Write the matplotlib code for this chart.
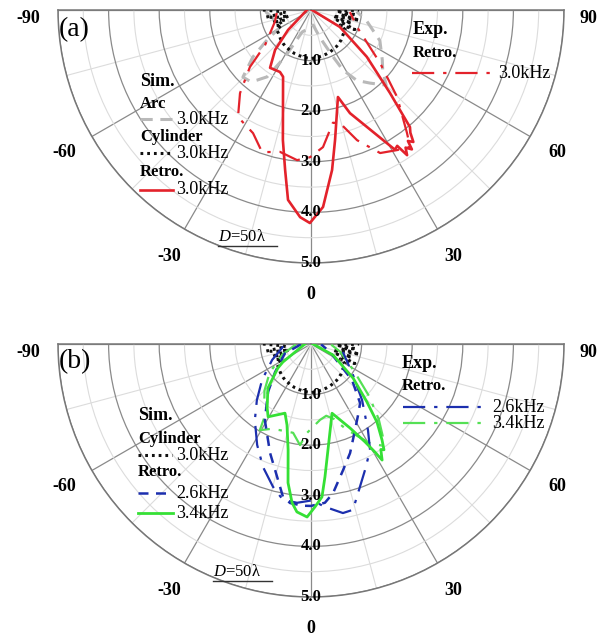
import numpy as np
import matplotlib
matplotlib.use('Agg')
import matplotlib.pyplot as plt
from matplotlib.lines import Line2D

plt.rcParams['font.family'] = ['Liberation Serif', 'DejaVu Serif']
plt.rcParams['mathtext.fontset'] = 'custom'
plt.rcParams['mathtext.rm'] = 'Liberation Serif'
plt.rcParams['mathtext.it'] = 'Liberation Serif:italic'

# ---- data (angle in degrees, normalised level) ----
angle_ticks = [-90, -60, -30, 0, 30, 60, 90]
minor_angles = [-75, -45, -15, 15, 45, 75]
r_ticks = [1.0, 2.0, 3.0, 4.0, 5.0]
r_minor = [0.5, 1.5, 2.5, 3.5, 4.5]

# simulation, cylinder 3.0 kHz (same in both panels)
cyl_theta = [-90, -87, -84, -81, -78, -75, -72, -69, -66, -63, -60, -55, -50, -45, -40, -35,
             -30, -25, -20, -15, -10, -5, 0, 5, 10, 15, 20, 25, 30, 35, 40, 45, 50, 55, 60,
             63, 66, 69, 72, 75, 78, 81, 84, 87, 90]
cyl_r = [0.95, 0.60, 0.50, 0.90, 0.70, 0.45, 0.80, 0.55, 0.75, 0.65, 0.78, 0.79, 0.81, 0.84,
         0.86, 0.88, 0.89, 0.91, 0.92, 0.93, 0.94, 0.95, 0.96, 0.95, 0.94, 0.93, 0.92, 0.91,
         0.89, 0.88, 0.86, 0.84, 0.81, 0.79, 0.78, 0.65, 0.95, 0.55, 0.85, 0.45, 0.98, 0.60,
         0.90, 0.50, 0.95]

# (a) simulation, arc 3.0 kHz
arc_theta = [-88, -75, -61, -55.7, -51, -45.4, -40, -37.6, -33.3, -29, -22, -10, 0, 8, 15,
             20, 25, 28, 33, 39, 45, 50, 55, 66, 80, 88]
arc_r = [0.90, 0.75, 0.70, 1.05, 1.48, 1.89, 1.85, 1.75, 1.58, 1.06, 0.47, 0.38, 0.35, 0.30,
         0.45, 0.65, 1.00, 1.34, 1.66, 1.86, 2.10, 1.85, 1.72, 1.49, 1.10, 0.90]

# (a) simulation, retro 3.0 kHz
retro30_theta = [-90, -49, -42, -35.3, -26.6, -22.7, -12.2, -9.2, -6.9, -3.0, -0.3, 3.5, 7.5,
                 10.5, 17.2, 20.7, 29.0, 31.0, 32.4, 33.5, 34.5, 35.9, 36.5, 37.8, 39.0, 40.2,
                 43.6, 50, 59.6, 90]
retro30_r = [0.08, 0.60, 1.06, 1.40, 1.37, 1.43, 2.63, 3.20, 3.78, 4.10, 4.21, 3.90, 3.19,
             2.61, 1.80, 2.18, 2.94, 3.22, 3.18, 3.44, 3.30, 3.40, 3.22, 3.30, 3.12, 3.03,
             2.26, 1.44, 0.66, 0.02]

# (a) experiment, retro 3.0 kHz
exp30_theta = [-85, -72, -52.7, -47, -40.5, -34.3, -25.2, -19, -12.3, -5.3, -0.4, 5, 11, 14.4,
               19.5, 25.8, 31.6, 35.9, 38, 44.7, 52.5, 69.7, 87]
exp30_r = [0.68, 0.75, 1.14, 1.65, 2.16, 2.56, 2.69, 2.97, 2.87, 2.98, 2.91, 2.72, 2.27, 2.31,
           2.73, 3.14, 3.25, 3.34, 3.08, 2.42, 1.72, 0.97, 0.77]

# (b) simulation, retro 2.6 kHz
retro26_theta = [-88, -70, -52, -41.9, -31.2, -20.6, -14.3, -10.4, -7.5, -3, 0, 5, 8.4, 14.3,
                 19.7, 27.1, 33, 39.7, 48.7, 67, 88]
retro26_r = [0.20, 0.55, 0.90, 1.27, 1.76, 2.30, 2.71, 3.07, 3.17, 3.20, 3.20, 3.15, 2.98,
             2.57, 2.29, 1.91, 1.70, 1.52, 1.08, 0.41, 0.20]

# (b) simulation, retro 3.4 kHz
retro34_theta = [-90, -57.3, -54, -44.3, -34.5, -30.5, -20.6, -16.5, -12.2, -9.4, -6.8, -4.8,
                 -1.3, 1.4, 4.1, 6.0, 9.1, 16.9, 24.9, 28.9, 30.6, 31.5, 33.5, 34.6, 36.5,
                 40.2, 44, 51, 63.4, 90]
retro34_r = [0.12, 0.66, 0.81, 1.22, 1.53, 1.67, 1.46, 1.67, 2.14, 2.78, 3.16, 3.33, 3.42,
             3.22, 3.03, 2.64, 2.12, 1.43, 1.83, 2.21, 2.48, 2.69, 2.50, 2.54, 2.36, 2.02,
             1.59, 1.07, 0.49, 0.04]

# (b) experiment, retro 2.6 kHz
exp26_theta = [-85, -67.7, -53.7, -44, -36.4, -28.1, -21.3, -14.9, -10.2, -5, 0.4, 4.9, 10.7,
               14.2, 17.5, 23.2, 29.1, 33.5, 42.3, 53.6, 76]
exp26_r = [0.55, 0.83, 1.20, 1.54, 1.87, 2.26, 2.61, 2.92, 3.13, 3.15, 3.09, 3.23, 3.40, 3.38,
           3.09, 2.71, 2.40, 2.04, 1.50, 1.03, 0.65]

# (b) experiment, retro 3.4 kHz
exp34_theta = [-88, -70, -55, -45, -38, -33.7, -30.7, -25, -19.8, -11.4, -6.2, -2.6, 6.8, 12,
               17, 22, 27, 31, 35, 38, 42, 48, 58, 75, 88]
exp34_r = [0.30, 0.60, 1.00, 1.30, 1.50, 1.57, 1.98, 1.85, 1.81, 1.79, 2.01, 1.76, 1.51, 1.45,
           1.55, 1.80, 2.05, 2.30, 2.45, 2.30, 2.00, 1.55, 1.00, 0.60, 0.40]

# ---- styles ----
RED = '#e3222b'
BLUE = '#1c2fae'
GREEN = '#35e035'
DD = (10, 4, 1.5, 4)
grey_dash = dict(color='#b9b9b9', lw=2.2, dashes=(4, 2.5))
cyl_dot = dict(color='#111111', lw=2.2, dashes=(0.9, 1.3))
red_solid = dict(color=RED, lw=1.9)
red_dd = dict(color=RED, lw=1.6, dashes=DD)
blue_dash = dict(color=BLUE, lw=1.8, dashes=(4, 3))
blue_dd = dict(color=BLUE, lw=1.6, dashes=DD)
green_solid = dict(color=GREEN, lw=2.0)
green_dd = dict(color='#55e055', lw=1.6, dashes=DD)

W, H = 597, 638
fig = plt.figure(figsize=(W / 100, H / 100), dpi=100)


def fx(x):
    return x / W


def fy(y):
    return 1 - y / H


def setup(ax):
    ax.set_theta_zero_location('S')
    ax.set_thetamin(-90)
    ax.set_thetamax(90)
    ax.set_rlim(0, 5)
    ax.set_xticks(np.deg2rad(angle_ticks))
    ax.set_xticks(np.deg2rad(minor_angles), minor=True)
    ax.set_yticks(r_ticks)
    ax.set_yticks(r_minor, minor=True)
    ax.set_xticklabels([])
    ax.set_yticklabels([])
    ax.xaxis.grid(True, which='major', color='#8a8a8a', lw=0.9)
    ax.xaxis.grid(True, which='minor', color='#dcdcdc', lw=0.8)
    ax.yaxis.grid(True, which='major', color='#8a8a8a', lw=0.9)
    ax.yaxis.grid(True, which='minor', color='#dcdcdc', lw=0.8)
    ax.tick_params(axis='x', which='major', length=0)
    ax.tick_params(axis='x', which='minor', length=5, direction='in', color='#777777')
    ax.tick_params(axis='y', length=0)
    for s in ax.spines.values():
        s.set_color('#777777')
        s.set_linewidth(1.1)
    for t in angle_ticks:
        if t == -90:
            ax.text(np.deg2rad(t), 5.35, str(t), ha='right', va='top', fontsize=13,
                    fontweight='bold', clip_on=False)
        elif t == 90:
            ax.text(np.deg2rad(t), 5.3, str(t), ha='left', va='top', fontsize=13,
                    fontweight='bold', clip_on=False)
        else:
            ax.text(np.deg2rad(t), 5.62, str(t), ha='center', va='center', fontsize=13,
                    fontweight='bold', clip_on=False)
    for v in r_ticks:
        ax.text(0, v, f'{v:.1f}', ha='center', va='center', fontsize=12,
                fontweight='bold', zorder=6)


def pl(ax, th, r, style):
    ax.plot(np.deg2rad(th), r, zorder=4, **style)


def legline(x0, x1, y, style):
    fig.add_artist(Line2D([fx(x0), fx(x1)], [fy(y), fy(y)], transform=fig.transFigure, **style))


def ftext(x, y, s, size=13, weight='normal', **kw):
    fig.text(fx(x), fy(y), s, fontsize=size, fontweight=weight, va='center', **kw)


def polar_panel(top):
    # square box; the half-disc is centred in it, so its top edge lies at box top + R/2
    box = [fx(cx - R), fy(top + 1.5 * R), 2 * R / W, 2 * R / H]
    ax = fig.add_axes(box, projection='polar')
    setup(ax)
    return ax


R = 253
cx = 311

# ---- panel (a) ----
ax1 = polar_panel(10)
pl(ax1, arc_theta, arc_r, grey_dash)
pl(ax1, cyl_theta, cyl_r, cyl_dot)
pl(ax1, exp30_theta, exp30_r, red_dd)
pl(ax1, retro30_theta, retro30_r, red_solid)

ftext(59, 30, '(a)', size=20)
ftext(140, 82, 'Sim.', size=13, weight='bold')
ftext(140, 104, 'Arc', size=12, weight='bold')
legline(140, 172, 119, grey_dash)
ftext(176, 119, '3.0kHz')
ftext(140, 137, 'Cylinder', size=12, weight='bold')
legline(140, 172, 153, cyl_dot)
ftext(176, 153, '3.0kHz')
ftext(140, 172, 'Retro.', size=12, weight='bold')
legline(140, 173, 190, red_solid)
ftext(176, 190, '3.0kHz')
ftext(413, 30, 'Exp.', size=13, weight='bold')
ftext(413, 53, 'Retro.', size=12, weight='bold')
legline(412, 493, 73, red_dd)
ftext(498, 73, '3.0kHz')
ftext(218, 237, r'$D$=50λ', size=12)
legline(218, 277, 246, dict(color='#333333', lw=1.0))

# ---- panel (b) ----
ax2 = polar_panel(344)
pl(ax2, cyl_theta, cyl_r, cyl_dot)
pl(ax2, exp34_theta, exp34_r, green_dd)
pl(ax2, exp26_theta, exp26_r, blue_dd)
pl(ax2, retro26_theta, retro26_r, blue_dash)
pl(ax2, retro34_theta, retro34_r, green_solid)

ftext(59, 362, '(b)', size=20)
ftext(138, 416, 'Sim.', size=13, weight='bold')
ftext(138, 439, 'Cylinder', size=12, weight='bold')
legline(138, 172, 455, cyl_dot)
ftext(176, 455, '3.0kHz')
ftext(138, 472, 'Retro.', size=12, weight='bold')
legline(138, 173, 493, blue_dash)
ftext(176, 493, '2.6kHz')
legline(138, 173, 513, green_solid)
ftext(176, 513, '3.4kHz')
ftext(402, 364, 'Exp.', size=13, weight='bold')
ftext(402, 386, 'Retro.', size=12, weight='bold')
legline(403, 487, 407, blue_dd)
ftext(492, 407, '2.6kHz')
legline(403, 487, 423, green_dd)
ftext(492, 423, '3.4kHz')
ftext(213, 572, r'$D$=50λ', size=12)
legline(213, 272, 581, dict(color='#333333', lw=1.0))

fig.savefig('out.png', dpi=100, facecolor='white')
